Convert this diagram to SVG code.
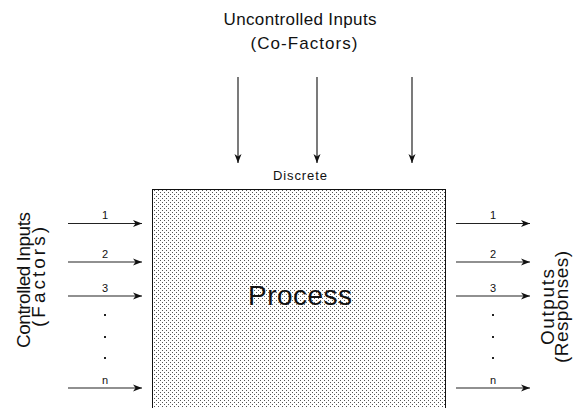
<svg xmlns="http://www.w3.org/2000/svg" width="573" height="408" viewBox="0 0 573 408">
<style>
text { font-family: "Liberation Sans", Arial, sans-serif; fill: #111; }
.side { font-size: 19px; text-anchor: middle; }
.num { font-size: 11px; text-anchor: middle; }
.conn line { stroke: #222; stroke-width: 1.2; }
</style>
<defs>
<pattern id="dots" width="4" height="4" patternUnits="userSpaceOnUse">
<rect width="4" height="4" fill="#ffffff"/>
<rect x="0" y="0" width="1" height="1" fill="#555"/>
<rect x="2" y="2" width="1" height="1" fill="#555"/>
</pattern>
<marker id="ah" markerWidth="10" markerHeight="8" refX="9" refY="4" orient="auto" markerUnits="userSpaceOnUse">
<path d="M0,0.5 L9,4 L0,7.5 L2.5,4 Z" fill="#111"/>
</marker>
</defs>

<g id="process">
<rect x="152.5" y="189.5" width="293" height="230" fill="url(#dots)" stroke="#111" stroke-width="1"/>
<text x="300" y="305" font-size="28" text-anchor="middle" textLength="104">Process</text>
</g>

<g id="uncontrolled-inputs">
<text x="300" y="25" font-size="17" text-anchor="middle" textLength="153">Uncontrolled Inputs</text>
<text x="304" y="49" font-size="17" text-anchor="middle" textLength="107">(Co-Factors)</text>
</g>

<g id="discrete">
<text x="300" y="180" font-size="13" text-anchor="middle" textLength="54">Discrete</text>
</g>

<g id="controlled-inputs">
<text class="side" transform="translate(30,280) rotate(-90)" textLength="136">Controlled Inputs</text>
<text class="side" transform="translate(45,277) rotate(-90)" textLength="100">(Factors)</text>
<text class="num" x="105" y="219">1</text>
<text class="num" x="105" y="258">2</text>
<text class="num" x="105" y="292">3</text>
<text class="num" x="105" y="384">n</text>
<rect x="104" y="314" width="2" height="2" fill="#222"/>
<rect x="104" y="336" width="2" height="2" fill="#222"/>
<rect x="104" y="357" width="2" height="2" fill="#222"/>
</g>

<g id="outputs">
<text class="side" transform="translate(554,307) rotate(-90)" textLength="76">Outputs</text>
<text class="side" transform="translate(568,307) rotate(-90)" textLength="112">(Responses)</text>
<text class="num" x="493" y="219">1</text>
<text class="num" x="493" y="258">2</text>
<text class="num" x="493" y="292">3</text>
<text class="num" x="493" y="384">n</text>
<rect x="492" y="314" width="2" height="2" fill="#222"/>
<rect x="492" y="336" width="2" height="2" fill="#222"/>
<rect x="492" y="357" width="2" height="2" fill="#222"/>
</g>

<g id="connectors" class="conn">
<line x1="238" y1="77" x2="238" y2="163" marker-end="url(#ah)"/>
<line x1="317" y1="77" x2="317" y2="163" marker-end="url(#ah)"/>
<line x1="412" y1="77" x2="412" y2="163" marker-end="url(#ah)"/>
<line x1="68" y1="223.5" x2="142" y2="223.5" marker-end="url(#ah)"/>
<line x1="68" y1="262" x2="142" y2="262" marker-end="url(#ah)"/>
<line x1="68" y1="296" x2="142" y2="296" marker-end="url(#ah)"/>
<line x1="68" y1="388" x2="142" y2="388" marker-end="url(#ah)"/>
<line x1="456" y1="223.5" x2="530" y2="223.5" marker-end="url(#ah)"/>
<line x1="456" y1="262" x2="530" y2="262" marker-end="url(#ah)"/>
<line x1="456" y1="296" x2="530" y2="296" marker-end="url(#ah)"/>
<line x1="456" y1="388" x2="530" y2="388" marker-end="url(#ah)"/>
</g>
</svg>
